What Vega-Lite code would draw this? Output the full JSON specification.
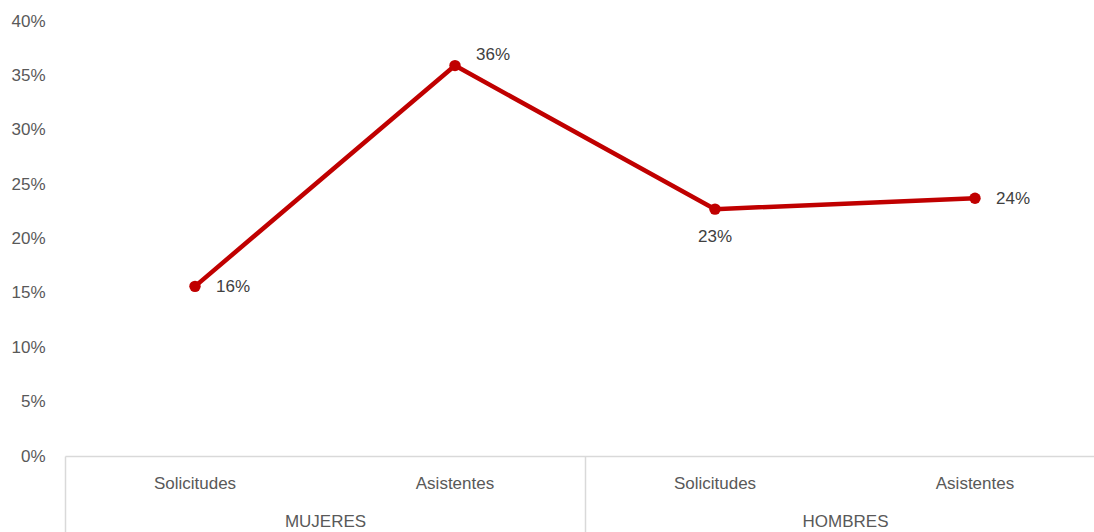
{
  "$schema": "https://vega.github.io/schema/vega-lite/v6.json",
  "autosize": {"type": "none"},
  "padding": {"left": 65, "top": 21, "right": 0, "bottom": 76},
  "width": 1029,
  "height": 435,
  "background": "white",
  "config": {"view": {"stroke": null}, "font": "Liberation Sans"},
  "layer": [
    {
      "data": {"values": [
        {"clave": "MUJERES|Solicitudes", "grupo": "MUJERES", "tipo": "Solicitudes", "valor": 0.156},
        {"clave": "MUJERES|Asistentes", "grupo": "MUJERES", "tipo": "Asistentes", "valor": 0.359},
        {"clave": "HOMBRES|Solicitudes", "grupo": "HOMBRES", "tipo": "Solicitudes", "valor": 0.227},
        {"clave": "HOMBRES|Asistentes", "grupo": "HOMBRES", "tipo": "Asistentes", "valor": 0.237}
      ]},
      "encoding": {
        "x": {
          "field": "clave", "type": "ordinal", "sort": null,
          "scale": {"type": "band", "range": [0, 1040], "paddingInner": 0, "paddingOuter": 0},
          "axis": {
            "title": null, "ticks": false, "tickSize": 0, "labelAngle": 0,
            "labelExpr": "split(datum.value, '|')[1]",
            "labelPadding": 19, "labelFontSize": 17, "labelColor": "#595959",
            "domainColor": "#d9d9d9", "domainWidth": 1.5, "grid": false
          }
        },
        "y": {
          "field": "valor", "type": "quantitative",
          "scale": {"domain": [0, 0.4], "nice": false},
          "axis": {
            "title": null, "format": ".0%", "values": [0, 0.05, 0.1, 0.15, 0.2, 0.25, 0.3, 0.35, 0.4],
            "ticks": false, "domain": false, "grid": false,
            "labelPadding": 20, "labelFontSize": 17, "labelColor": "#595959"
          }
        }
      },
      "layer": [
        {"mark": {"type": "line", "color": "#C00000", "strokeWidth": 4.5}},
        {"mark": {"type": "point", "filled": true, "color": "#C00000", "size": 130, "opacity": 1}},
        {
          "transform": [{"filter": "datum.valor < 0.2 || (datum.grupo == 'HOMBRES' && datum.tipo == 'Asistentes')"}],
          "mark": {"type": "text", "align": "left", "baseline": "middle", "dx": 21, "dy": 1, "fontSize": 17, "color": "#404040"},
          "encoding": {"text": {"field": "valor", "type": "quantitative", "format": ".0%"}}
        },
        {
          "transform": [{"filter": "datum.valor > 0.3"}],
          "mark": {"type": "text", "align": "left", "baseline": "middle", "dx": 21, "dy": -11, "fontSize": 17, "color": "#404040"},
          "encoding": {"text": {"field": "valor", "type": "quantitative", "format": ".0%"}}
        },
        {
          "transform": [{"filter": "datum.grupo == 'HOMBRES' && datum.tipo == 'Solicitudes'"}],
          "mark": {"type": "text", "align": "center", "baseline": "middle", "dy": 28, "fontSize": 17, "color": "#404040"},
          "encoding": {"text": {"field": "valor", "type": "quantitative", "format": ".0%"}}
        }
      ]
    },
    {
      "data": {"values": [{"grupo": "MUJERES"}, {"grupo": "HOMBRES"}]},
      "mark": {"type": "point", "opacity": 0},
      "encoding": {
        "x": {
          "field": "grupo", "type": "nominal", "sort": null,
          "scale": {"type": "band", "range": [0, 1040], "paddingInner": 0, "paddingOuter": 0},
          "axis": {
            "title": null, "orient": "bottom", "domain": false, "grid": false,
            "tickBand": "extent", "tickExtra": true, "tickSize": 76, "tickColor": "#d9d9d9", "tickWidth": 1.5,
            "labelAngle": 0, "labelPadding": -19, "labelFontSize": 17, "labelColor": "#595959"
          }
        }
      }
    }
  ],
  "resolve": {"scale": {"x": "independent"}, "axis": {"x": "independent"}}
}
